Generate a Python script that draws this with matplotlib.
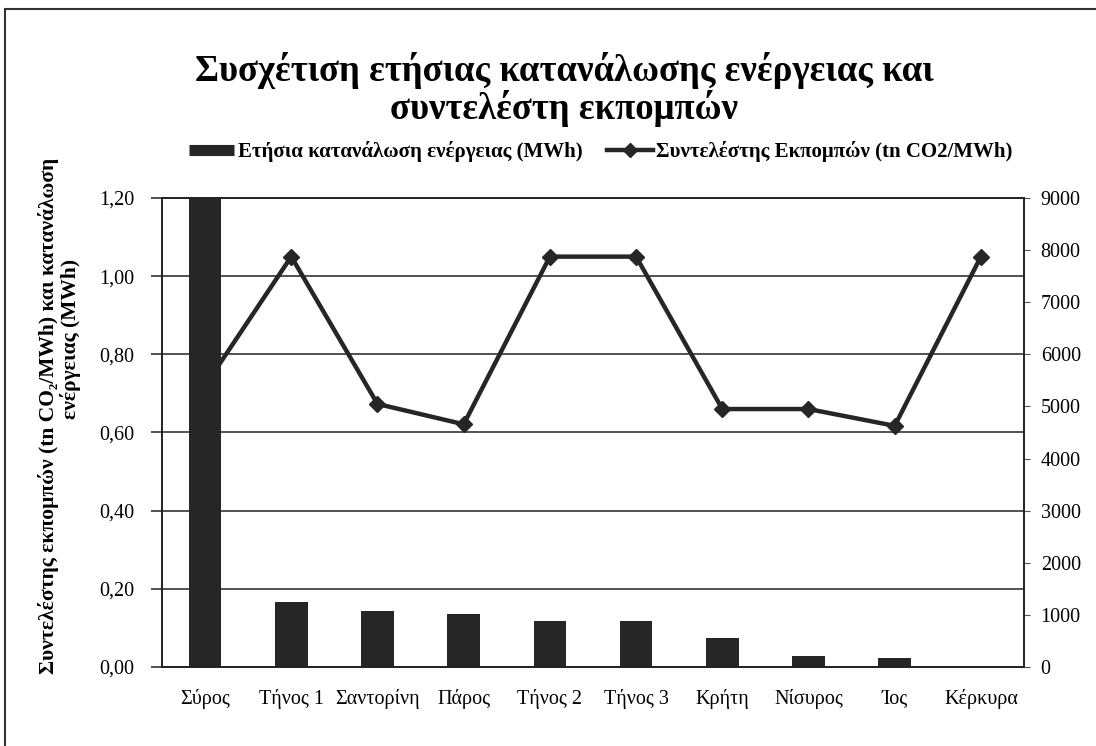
import numpy as np
import matplotlib
matplotlib.use("Agg")
import matplotlib.pyplot as plt
from matplotlib.lines import Line2D
from matplotlib.patches import Rectangle

plt.rcParams["font.family"] = ["Liberation Serif", "DejaVu Serif"]

# islands, annual consumption (MWh) and emission factor (tn CO2/MWh)
islands = ["Σύρος", "Τήνος 1", "Σαντορίνη", "Πάρος", "Τήνος 2", "Τήνος 3",
           "Κρήτη", "Νίσυρος", "Ίος", "Κέρκυρα"]
consumption = [9000, 1250, 1075, 1010, 880, 880, 550, 210, 175, 0]
emission_factor = [0.72, 1.05, 0.673, 0.621, 1.05, 1.05, 0.66, 0.66, 0.617, 1.05]

left_ticks = [0.0, 0.2, 0.4, 0.6, 0.8, 1.0, 1.2]
right_ticks = [0, 1000, 2000, 3000, 4000, 5000, 6000, 7000, 8000, 9000]

dark = "#262626"

fig = plt.figure(figsize=(10.96, 7.46), dpi=100)
ax = fig.add_axes([0.1478, 0.1059, 0.7865, 0.6287])
ax2 = ax.twinx()

x = np.arange(len(islands))

# emission factor line on the left axis
ax.plot(x, emission_factor, color=dark, lw=3.2, marker="D", ms=8,
        markerfacecolor=dark, markeredgecolor=dark, zorder=3)
ax.set_ylim(0, 1.2)
ax.set_yticks(left_ticks)
ax.set_yticklabels([f"{v:.2f}".replace(".", ",") for v in left_ticks], fontsize=14.5)
ax.set_xlim(-0.5, len(islands) - 0.5)
ax.set_xticks(x)
ax.set_xticklabels(islands, fontsize=14.5)
ax.tick_params(axis="x", length=0, pad=16)
ax.tick_params(axis="y", direction="out", length=8, width=1.2, color="#333333", pad=12)
ax.grid(axis="y", color="#333333", lw=1.2)
ax.set_axisbelow(True)

# annual consumption bars on the right axis, drawn over the line
ax2.bar(x, consumption, width=0.38, color=dark, zorder=2)
ax2.set_ylim(0, 9000)
ax2.set_yticks(right_ticks)
ax2.set_yticklabels([str(v) for v in right_ticks], fontsize=14.5)
ax2.tick_params(axis="y", direction="out", length=4, color="#555555", pad=8)

for a in (ax, ax2):
    for s in a.spines.values():
        s.set_color("#222222")
        s.set_linewidth(1.2)

fig.text(0.515, 0.906, "Συσχέτιση ετήσιας κατανάλωσης ενέργειας και",
         ha="center", va="center", fontsize=26.5, fontweight="bold")
fig.text(0.515, 0.855, "συντελέστη εκπομπών",
         ha="center", va="center", fontsize=26.5, fontweight="bold")

# y label in two lines
fig.text(0.044, 0.443, "Συντελέστης εκπομπών (tn CO₂/MWh) και κατανάλωση",
         rotation=90, ha="center", va="center", fontsize=15.5, fontweight="bold")
fig.text(0.064, 0.545, "ενέργειας (MWh)",
         rotation=90, ha="center", va="center", fontsize=15.5, fontweight="bold")

handles = [
    Line2D([0], [0], color=dark, lw=8, solid_capstyle="butt"),
    Line2D([0], [0], color=dark, lw=3.2, marker="D", ms=7),
]
labels = ["Ετήσια κατανάλωση ενέργειας (MWh)", "Συντελέστης Εκπομπών (tn CO2/MWh)"]
fig.legend(handles, labels, loc="center", bbox_to_anchor=(0.548, 0.797),
           ncol=2, frameon=False, handlelength=2.2, handletextpad=0.15,
           columnspacing=1.2, borderaxespad=0, prop={"weight": "bold", "size": 15})

# outer frame around the chart
fig.patches.append(Rectangle((0.005, -0.1), 1.2, 1.088, transform=fig.transFigure,
                             fill=False, edgecolor="#333333", lw=1.5))

fig.savefig("out.png", dpi=100)
